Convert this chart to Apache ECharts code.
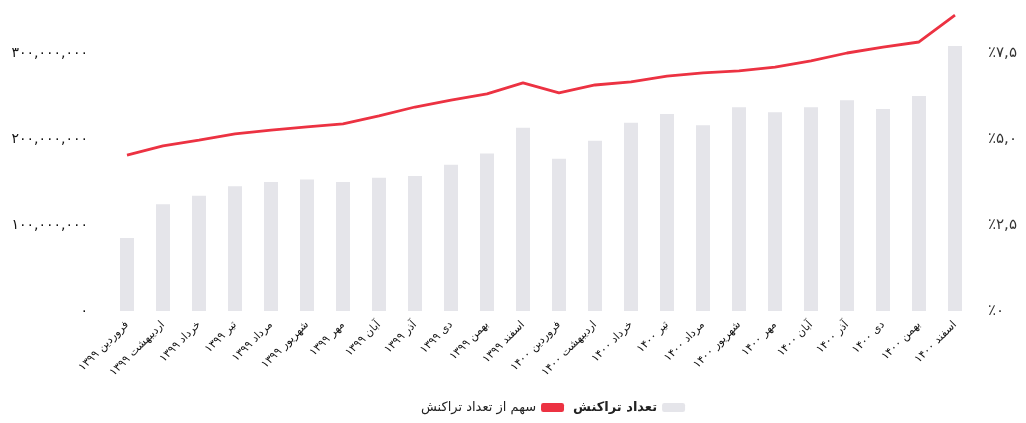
<!DOCTYPE html>
<html>
<head>
<meta charset="utf-8">
<script src="https://cdn.jsdelivr.net/npm/echarts@6/dist/echarts.min.js"></script>
<style>html,body{margin:0;padding:0;background:#fff}#c{width:1026px;height:423px}</style>
</head>
<body>
<div id="c"></div>
<script>
const months = ['فروردین','اردیبهشت','خرداد','تیر','مرداد','شهریور','مهر','آبان','آذر','دی','بهمن','اسفند'];
const years = ['۱۳۹۹','۱۴۰۰'];
const categories = [];
years.forEach(y => months.forEach(m => categories.push(m + ' ' + y)));

const countValues = [85e6,124e6,134e6,145e6,150e6,153e6,150e6,155e6,157e6,170e6,183e6,213e6,
                     177e6,198e6,219e6,229e6,216e6,237e6,231e6,237e6,245e6,235e6,250e6,308e6];
const shareValues = [4.53,4.80,4.97,5.15,5.26,5.35,5.44,5.67,5.93,6.13,6.31,6.63,
                     6.34,6.57,6.66,6.83,6.92,6.98,7.09,7.27,7.50,7.67,7.82,8.60];

const barName = 'تعداد تراکنش';
const lineName = 'سهم از تعداد تراکنش';

const fa = d => String(d).replace(/[0-9]/g, c => '۰۱۲۳۴۵۶۷۸۹'[c]);
const fmtCount = v => fa(Math.round(v).toString().replace(/\B(?=(\d{3})+(?!\d))/g, ','));
const fmtPct = v => '٪' + (v === 0 ? fa(0) : fa(v.toFixed(1)).replace('.', ','));

const FONT = 'DejaVu Sans';
const chart = echarts.init(document.getElementById('c'), null, {renderer: 'canvas'});
chart.setOption({
  animation: false,
  backgroundColor: '#fff',
  textStyle: {fontFamily: FONT},
  grid: {left: 109, right: 53, top: 10, bottom: 112, containLabel: false},
  legend: {
    bottom: 4, left: 416, align: 'right', itemGap: 9, itemWidth: 23, itemHeight: 9,
    icon: 'roundRect',
    textStyle: {fontFamily: FONT, fontSize: 13, color: '#222'},
    data: [{name: lineName}, {name: barName, textStyle: {fontWeight: 'bold'}}]
  },
  xAxis: {
    type: 'category', data: categories,
    axisLine: {show: false}, axisTick: {show: false},
    axisLabel: {rotate: 45, fontSize: 11, color: '#111', margin: 12, interval: 0, fontFamily: FONT}
  },
  yAxis: [{
    type: 'value', min: 0, max: 350e6, interval: 100e6,
    axisLine: {show: false}, axisTick: {show: false}, splitLine: {show: false},
    axisLabel: {showMaxLabel: false, formatter: fmtCount, color: '#111', fontSize: 14, margin: 21, fontFamily: FONT}
  }, {
    type: 'value', min: 0, max: 8.75, interval: 2.5,
    axisLine: {show: false}, axisTick: {show: false}, splitLine: {show: false},
    axisLabel: {showMaxLabel: false, formatter: fmtPct, color: '#333', fontSize: 15, margin: 15, fontFamily: FONT}
  }],
  series: [{
    name: barName, type: 'bar', data: countValues, barWidth: 14,
    itemStyle: {color: '#e5e5ea'}
  }, {
    name: lineName, type: 'line', yAxisIndex: 1, data: shareValues,
    showSymbol: false, symbol: 'none',
    lineStyle: {color: '#ec3242', width: 2.8},
    itemStyle: {color: '#ec3242'}
  }]
});
</script>
</body>
</html>
